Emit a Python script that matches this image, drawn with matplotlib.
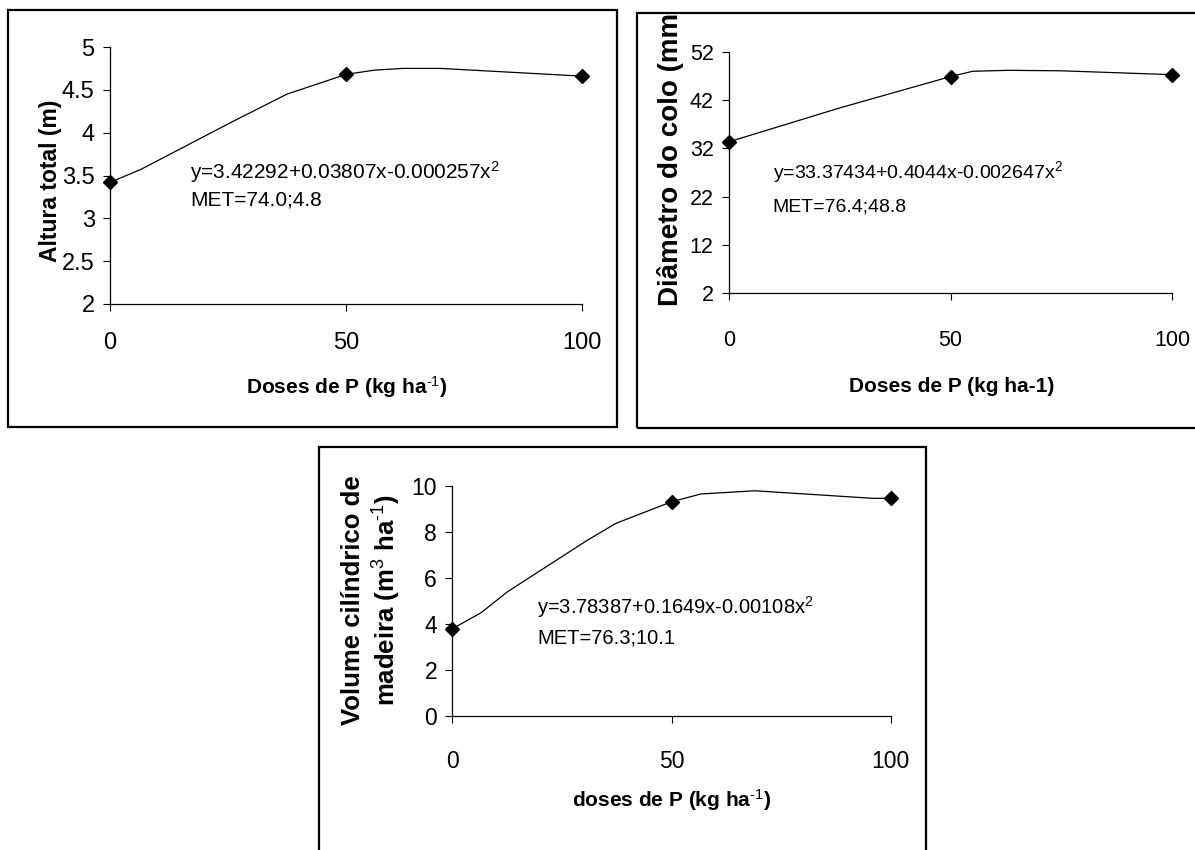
import matplotlib
matplotlib.use("Agg")
import matplotlib.pyplot as plt
from matplotlib.patches import Rectangle

plt.rcParams['font.family'] = ['Liberation Sans', 'DejaVu Sans']
plt.rcParams['mathtext.fontset'] = 'custom'
plt.rcParams['mathtext.rm'] = 'Liberation Sans'
plt.rcParams['mathtext.bf'] = 'Liberation Sans:bold'
plt.rcParams['mathtext.it'] = 'Liberation Sans:italic'

# observed means at the three doses
doses = [0, 50, 100]
altura = [3.42, 4.68, 4.66]
diametro = [33.37, 46.9, 47.3]
volume = [3.78, 9.30, 9.45]

# smoothed curves as drawn in the original
altura_cx = [0, 6.5, 26, 37.5, 50, 56, 62, 70, 100]
altura_cy = [3.42, 3.57, 4.13, 4.45, 4.68, 4.73, 4.75, 4.75, 4.66]
diam_cx = [0, 25, 50, 55, 63, 75, 100]
diam_cy = [33.37, 40.4, 46.9, 48.0, 48.2, 48.1, 47.3]
vol_cx = [0, 6.6, 12.6, 30.9, 37.3, 50, 56.7, 69, 96, 100]
vol_cy = [3.78, 4.48, 5.39, 7.64, 8.36, 9.30, 9.64, 9.78, 9.45, 9.45]

xticks = [0, 50, 100]
alt_ticks = [2, 2.5, 3, 3.5, 4, 4.5, 5]
alt_labels = ['2', '2.5', '3', '3.5', '4', '4.5', '5']
diam_ticks = [2, 12, 22, 32, 42, 52]
vol_ticks = [0, 2, 4, 6, 8, 10]

W, H = 1195, 850
fig = plt.figure(figsize=(W / 100, H / 100), dpi=100)


def px_axes(x0, x1, y_top, y_bot):
    return fig.add_axes([x0 / W, 1 - y_bot / H, (x1 - x0) / W, (y_bot - y_top) / H])


def frame(x0, y0, x1, y1):
    fig.patches.append(Rectangle((x0 / W, 1 - y1 / H), (x1 - x0) / W, (y1 - y0) / H,
                                 transform=fig.transFigure, fill=False,
                                 edgecolor='black', linewidth=1.6))


def style(ax, ylim, yt, ylab, tick_fs, xpad):
    ax.set_xlim(0, 100)
    ax.set_ylim(*ylim)
    ax.spines['top'].set_visible(False)
    ax.spines['right'].set_visible(False)
    ax.spines['left'].set_linewidth(0.9)
    ax.spines['bottom'].set_linewidth(0.9)
    ax.set_xticks(xticks)
    ax.set_yticks(yt)
    ax.set_yticklabels(ylab)
    ax.tick_params(axis='both', direction='out', length=5, width=0.8, labelsize=tick_fs)
    ax.tick_params(axis='x', pad=xpad)
    ax.tick_params(axis='y', pad=6)
    ax.patch.set_alpha(0)


def curve(ax, cx, cy, px, py):
    ax.plot(cx, cy, color='black', linewidth=0.9, clip_on=False)
    ax.plot(px, py, linestyle='None', marker='D', markersize=7,
            color='black', clip_on=False, zorder=5)


sup_m1 = r'$^{\text{-1}}$'

# panel 1 - altura
frame(8, 10, 617, 427)
ax1 = px_axes(110, 582, 47, 304)
curve(ax1, altura_cx, altura_cy, doses, altura)
style(ax1, (2, 5), alt_ticks, alt_labels, 17, 15)
ax1.text(17, 3.54, r'y=3.42292+0.03807x-0.000257x$^2$', fontsize=15, va='center')
ax1.text(17, 3.21, 'MET=74.0;4.8', fontsize=15, va='center')
ax1.text(0.502, -0.323, 'Doses de P (kg ha' + sup_m1 + ')', transform=ax1.transAxes,
         fontsize=15, fontweight='bold', ha='center', va='center')
ax1.text(-0.125, 0.479, 'Altura total (m)', transform=ax1.transAxes, rotation=90,
         fontsize=16.5, fontweight='bold', ha='center', va='center')

# panel 2 - diametro
frame(637, 13, 1215, 428)
ax2 = px_axes(729, 1172, 52, 293)
curve(ax2, diam_cx, diam_cy, doses, diametro)
style(ax2, (2, 52), diam_ticks, [str(t) for t in diam_ticks], 15.5, 21.5)
ax2.text(9.9, 27.1, r'y=33.37434+0.4044x-0.002647x$^2$', fontsize=14, va='center')
ax2.text(9.9, 19.9, 'MET=76.4;48.8', fontsize=14, va='center')
ax2.text(0.503, -0.39, 'Doses de P (kg ha-1)', transform=ax2.transAxes,
         fontsize=15, fontweight='bold', ha='center', va='center')
ax2.text(-0.133, 0.553, 'Diâmetro do colo (mm', transform=ax2.transAxes, rotation=90,
         fontsize=20, fontweight='bold', ha='center', va='center')

# panel 3 - volume
frame(319, 447, 926, 870)
ax3 = px_axes(452.3, 890.7, 485.7, 715.7)
curve(ax3, vol_cx, vol_cy, doses, volume)
style(ax3, (0, 10), vol_ticks, [str(t) for t in vol_ticks], 16.5, 19.5)
ax3.text(19.3, 4.74, r'y=3.78387+0.1649x-0.00108x$^2$', fontsize=14.5, va='center')
ax3.text(19.3, 3.37, 'MET=76.3;10.1', fontsize=14.5, va='center')
ax3.text(0.501, -0.367, 'doses de P (kg ha' + sup_m1 + ')', transform=ax3.transAxes,
         fontsize=15, fontweight='bold', ha='center', va='center')
ax3.text(-0.183, 0.503, 'Volume cilíndrico de\nmadeira (m$^{3}$ ha' + sup_m1 + ')',
         transform=ax3.transAxes, rotation=90, fontsize=18.5, fontweight='bold',
         ha='center', va='center', multialignment='center', linespacing=1.2)

fig.savefig('out.png', dpi=100)
